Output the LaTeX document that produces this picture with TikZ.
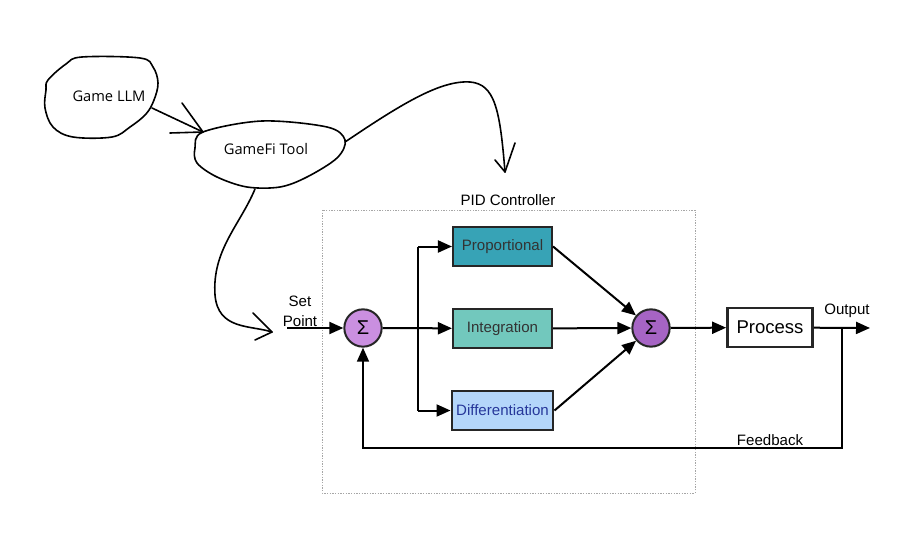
\documentclass[tikz,border=0pt]{standalone}
\usepackage{fontspec}
\setmainfont{Liberation Sans}
\newfontfamily\sketchfont{Open Sans}
\usetikzlibrary{arrows.meta,positioning}
\definecolor{propfill}{HTML}{37A3B6}
\definecolor{intfill}{HTML}{72C8BD}
\definecolor{diffill}{HTML}{B4D6FA}
\definecolor{diftext}{HTML}{26379A}
\definecolor{sumlight}{HTML}{CA8FE0}
\definecolor{sumdark}{HTML}{A664C4}
\begin{document}
\begin{tikzpicture}[x=0.75pt,y=-0.75pt,
  sketch/.style={line width=1.2pt,line join=round,line cap=round},
  blk/.style={draw=black!85,line width=1.8pt,minimum width=74pt,minimum height=29pt,font=\fontsize{11.3}{13}\selectfont},
  sum/.style={circle,draw=black!85,line width=1.5pt,minimum size=28pt,inner sep=0pt,font=\fontsize{15}{16}\selectfont},
  flow/.style={-{Triangle[length=10.5pt,width=9pt]},line width=1.5pt},
  lbl/.style={font=\fontsize{11.3}{15}\selectfont}]
\useasboundingbox (0,0) rectangle (914,549);
\node[font=\sketchfont\fontsize{11}{13}\selectfont] (llm) at (109,96) {Game LLM};
\node[font=\sketchfont\fontsize{11}{13}\selectfont] (tool) at (266,149) {GameFi Tool};
\draw[sketch] plot[smooth cycle,tension=0.6] coordinates {(48,80) (66,64) (82,57) (140,58) (153,67) (158,83) (154,100) (146,114) (130,127) (112,137) (73,137) (53,127) (45,108) (46,90)};
\draw[sketch] plot[smooth cycle,tension=0.55] coordinates {(203,132) (262,121) (327,127) (345,140) (337,158) (307,177) (280,187) (247,187) (217,177) (197,163) (195,148)};
\coordinate (llmout) at (152,108); \coordinate (toolin) at (203,132);
\draw[sketch] (llmout) -- (toolin); \draw[sketch] (182,103) -- (toolin) -- (170,133);
\coordinate (toolright) at (345,142); \coordinate (pidtip) at (505,172);
\draw[sketch] (toolright) .. controls (400,105) and (440,80) .. (470,82) .. controls (495,84) and (500,110) .. (pidtip);
\draw[sketch] (495,160) -- (pidtip) -- (515,143);
\coordinate (toolbottom) at (255,189); \coordinate (sptip) at (272,332);
\draw[sketch] (toolbottom) .. controls (240,225) and (212,250) .. (215,295) .. controls (218,330) and (250,325) .. (sptip);
\draw[sketch] (253,313) -- (sptip) -- (255,340);
\draw[gray!70,line width=0.6pt,dash pattern=on 1pt off 1pt] (322,210) rectangle (695,493);
\node[lbl] (pid) at (508,200) {PID Controller};
\node[sum,fill=sumlight] (s1) at (363,328) {Σ};
\node[sum,fill=sumdark] (s2) at (651,328) {Σ};
\node[blk,fill=propfill,text=black!80] (prop) at (502.5,246.5) {Proportional};
\node[blk,fill=intfill,text=black!80] (integ) at (502.5,328.5) {Integration};
\node[blk,fill=diffill,text=diftext] (diff) at (502.5,410.5) {Differentiation};
\node[blk,fill=white,minimum width=64pt,font=\fontsize{13.9}{16}\selectfont] (proc) at (770,327.5) {Process};
\node[lbl,align=center] (sp) at (300,311) {Set\\Point};
\node[lbl] (out) at (847,311) {Output};
\node[lbl] (fb) at (770,440) {Feedback};
\coordinate (in) at (287,328); \coordinate (br) at (418,328);
\coordinate (tap) at (842,328); \coordinate (end) at (870,328); \coordinate (fbc) at (842,448);
\draw[flow] (in) -- (s1);
\draw[flow] (s1) -- (integ);
\draw[line width=1.5pt] (br |- prop) -- (br |- diff);
\draw[flow] (br |- prop) -- (prop); \draw[flow] (br |- diff) -- (diff);
\draw[flow] (prop.east) -- (s2); \draw[flow] (integ) -- (s2); \draw[flow] (diff.east) -- (s2);
\draw[flow] (s2) -- (proc);
\draw[flow] (proc) -- (end);
\draw[flow,line width=1.3pt] (tap) -- (fbc) -| (s1);
\end{tikzpicture}
\end{document}
